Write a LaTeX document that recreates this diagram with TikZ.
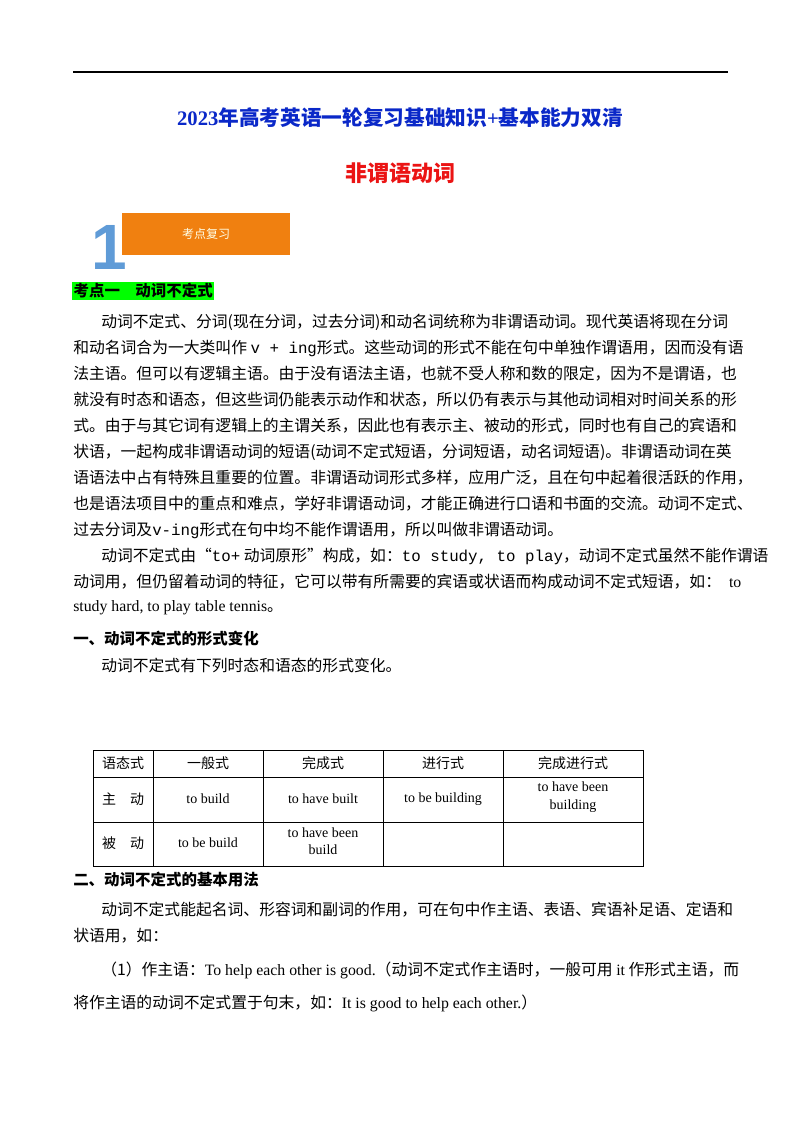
\documentclass[tikz,border=0pt]{standalone}
\usepackage{fontspec}
\setmainfont{Liberation Serif}
\newfontfamily\cjk{Noto Sans CJK SC}
\newfontfamily\sansf{Liberation Sans}
\newfontfamily\monof{Liberation Mono}
\newcommand\en[1]{{\rmfamily #1}}
\newcommand\mn[1]{{\monof #1}}
\definecolor{tblue}{RGB}{10,40,200}
\definecolor{tred}{RGB}{235,20,20}
\definecolor{torange}{RGB}{240,128,16}
\definecolor{nblue}{RGB}{95,155,215}
\definecolor{hl}{RGB}{0,255,0}
\begin{document}
\begin{tikzpicture}[x=0.75pt,y=-0.75pt,
  body/.style={anchor=west,inner sep=0,font=\cjk\fontsize{11.85}{13}\selectfont},
  head/.style={anchor=west,inner sep=0,font=\cjk\bfseries\fontsize{11.6}{13}\selectfont},
  cell/.style={inner sep=0,align=center,font=\fontsize{10.5}{13}\selectfont},
  ccell/.style={inner sep=0,align=center,font=\cjk\fontsize{10.5}{13}\selectfont}]
\useasboundingbox (0,0) rectangle (800,1132);
\fill[white] (0,0) rectangle (800,1132);
\draw[line width=1.2pt] (73,72) -- (728,72);
\node[inner sep=0,text=tblue,font=\cjk\bfseries\fontsize{15.5}{18}\selectfont] (t1) at (400,118) {{\rmfamily 2023}年高考英语一轮复习基础知识{\rmfamily +}基本能力双清};
\node[inner sep=0,text=tred,font=\cjk\bfseries\fontsize{16.5}{18}\selectfont] (t2) at (400,173) {非谓语动词};
\node[fill=torange,minimum width=126pt,minimum height=32pt,inner sep=0,text=white!90!yellow,font=\cjk\fontsize{9}{10}\selectfont] (box) at (206,234) {考点复习};
\node[inner sep=0,text=nblue,font=\sansf\bfseries\fontsize{48}{48}\selectfont] (one) at (109,247) {1};
\node[head,fill=hl,inner ysep=1.5pt,inner xsep=1pt] (k1) at (72,291) {考点一\quad 动词不定式};
\node[body] at (101,322) {动词不定式、分词(现在分词，过去分词)和动名词统称为非谓语动词。现代英语将现在分词};
\node[body] at (73,348) {和动名词合为一大类叫作 \mn{v + ing}形式。这些动词的形式不能在句中单独作谓语用，因而没有语};
\node[body] at (73,374) {法主语。但可以有逻辑主语。由于没有语法主语，也就不受人称和数的限定，因为不是谓语，也};
\node[body] at (73,400) {就没有时态和语态，但这些词仍能表示动作和状态，所以仍有表示与其他动词相对时间关系的形};
\node[body] at (73,426) {式。由于与其它词有逻辑上的主谓关系，因此也有表示主、被动的形式，同时也有自己的宾语和};
\node[body] at (73,452) {状语，一起构成非谓语动词的短语(动词不定式短语，分词短语，动名词短语)。非谓语动词在英};
\node[body] at (73,478) {语语法中占有特殊且重要的位置。非谓语动词形式多样，应用广泛，且在句中起着很活跃的作用，};
\node[body] at (73,504) {也是语法项目中的重点和难点，学好非谓语动词，才能正确进行口语和书面的交流。动词不定式、};
\node[body] at (73,530) {过去分词及\mn{v-ing}形式在句中均不能作谓语用，所以叫做非谓语动词。};
\node[body] at (101,556) {动词不定式由“\mn{to+} 动词原形”构成，如：\mn{to study, to play}，动词不定式虽然不能作谓语};
\node[body] at (73,582) {动词用，但仍留着动词的特征，它可以带有所需要的宾语或状语而构成动词不定式短语，如：\hspace{6pt}\en{to}};
\node[body] at (73,608) {\en{study hard, to play table tennis}。};
\node[head] at (73,639) {一、动词不定式的形式变化};
\node[body] at (101,665) {动词不定式有下列时态和语态的形式变化。};
% table
\draw[line width=0.6pt] (93,750) rectangle (643,866);
\foreach \y in {777,822} \draw[line width=0.6pt] (93,\y) -- (643,\y);
\foreach \x in {153,263,383,503} \draw[line width=0.6pt] (\x,750) -- (\x,866);
\node[ccell] at (123,763) {语态式};
\node[ccell] at (208,763) {一般式};
\node[ccell] at (323,763) {完成式};
\node[ccell] at (443,763) {进行式};
\node[ccell] at (573,763) {完成进行式};
\node[ccell] at (123,799) {主\quad 动};
\node[cell] at (208,799) {to build};
\node[cell] at (323,799) {to have built};
\node[cell] at (443,799) {to be building};
\node[cell] at (573,797) {to have been\\building};
\node[ccell] at (123,843) {被\quad 动};
\node[cell] at (208,843) {to be build};
\node[cell] at (323,841) {to have been\\build};
\node[head] at (73,880) {二、动词不定式的基本用法};
\node[body] at (101,910) {动词不定式能起名词、形容词和副词的作用，可在句中作主语、表语、宾语补足语、定语和};
\node[body] at (73,936) {状语用，如：};
\node[body] at (101,970) {（1）作主语：\en{To help each other is good.}（动词不定式作主语时，一般可用 \en{it} 作形式主语，而};
\node[body] at (73,1003) {将作主语的动词不定式置于句末，如：\en{It is good to help each other.}）};
\end{tikzpicture}
\end{document}
